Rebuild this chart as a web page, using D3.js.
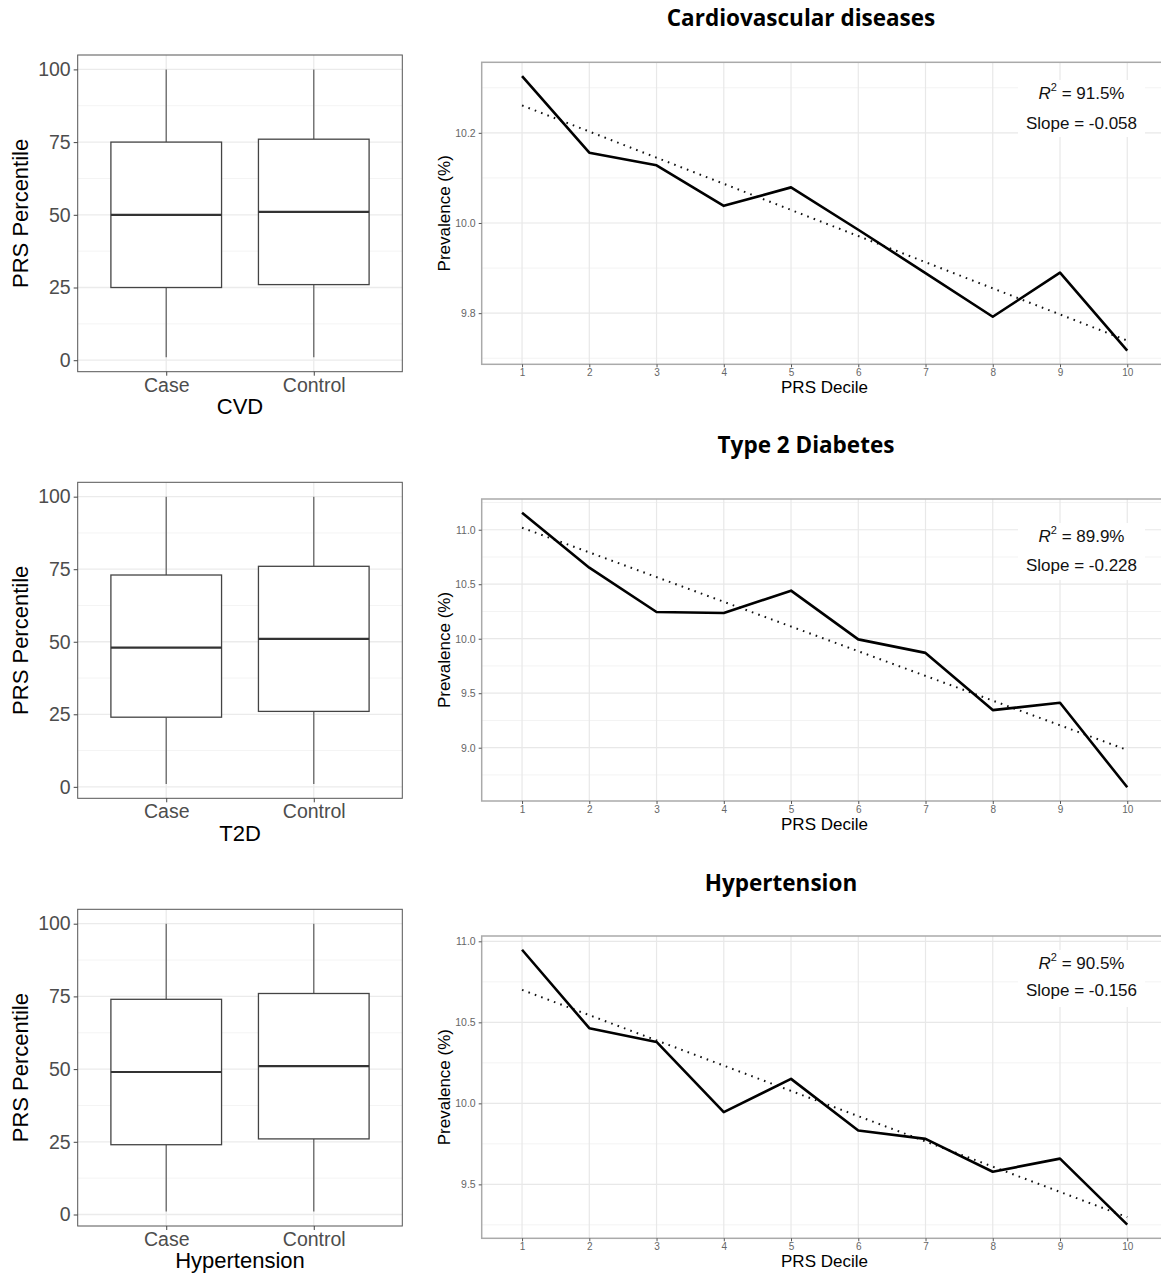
<!DOCTYPE html>
<html><head><meta charset="utf-8">
<script src="https://cdn.jsdelivr.net/npm/d3@7/dist/d3.min.js"></script>
<style>
html,body{margin:0;padding:0;background:#fff;}
svg{display:block;}
</style></head>
<body>
<svg id="chart" width="1161" height="1274"></svg>
<script>
// ---------- data ----------
const diseases = ["CVD", "T2D", "Hypertension"];
const titles = ["Cardiovascular diseases", "Type 2 Diabetes", "Hypertension"];
const groups = ["Case", "Control"];
// box stats: [min, q1, median, q3, max] per group (Case, Control)
const cvdBox = [[1, 25, 50, 75, 100], [1, 26, 51, 76, 100]];
const t2dBox = [[1, 24, 48, 73, 100], [1, 26, 51, 76, 100]];
const htnBox = [[1, 24, 49, 74, 100], [1, 26, 51, 76, 100]];
const boxTicks = [0, 25, 50, 75, 100];

const deciles = [1, 2, 3, 4, 5, 6, 7, 8, 9, 10];
const cvdPrev = [10.326, 10.156, 10.128, 10.038, 10.079, 9.985, 9.889, 9.792, 9.890, 9.717];
const t2dPrev = [11.156, 10.652, 10.245, 10.236, 10.441, 9.994, 9.870, 9.345, 9.412, 8.637];
const htnPrev = [10.948, 10.464, 10.379, 9.946, 10.151, 9.832, 9.781, 9.578, 9.659, 9.252];
const cvdTicks = [9.8, 10.0, 10.2];
const t2dTicks = [9.0, 9.5, 10.0, 10.5, 11.0];
const htnTicks = [9.5, 10.0, 10.5, 11.0];
const r2Labels = ["91.5%", "89.9%", "90.5%"];
const slopeLabels = ["-0.058", "-0.228", "-0.156"];

// ---------- layout ----------
const svg = d3.select("#chart");
const boxData = [cvdBox, t2dBox, htnBox];
const prevData = [cvdPrev, t2dPrev, htnPrev];
const prevTicks = [cvdTicks, t2dTicks, htnTicks];

const boxRows = [{top: 55, bottom: 371.7}, {top: 482.3, bottom: 798.3}, {top: 909.3, bottom: 1226}];
const lineRows = [{top: 62.3, bottom: 364.3}, {top: 499, bottom: 801}, {top: 936, bottom: 1238.3}];
const titleY = [20, 447, 885];
const titleX = [801, 806, 781];
const annY = [[95, 125], [538, 566.7], [965, 991.7]];

const SANS = "'Liberation Sans', Arial, sans-serif";

function boxPanel(i) {
  const r = boxRows[i];
  const L = 77.7, R = 402.3;
  const g = svg.append("g");
  const xp = d3.scalePoint().domain(groups).range([L, R]).padding(0.6);
  const bw = xp.step() * 0.75;
  const y = d3.scaleLinear().domain([1 - 4.95, 100 + 4.95]).range([r.bottom, r.top]);

  const minor = [12.5, 37.5, 62.5, 87.5];
  g.selectAll(".mn").data(minor).join("line")
    .attr("x1", L).attr("x2", R).attr("y1", d => y(d)).attr("y2", d => y(d))
    .attr("stroke", "#f4f4f4").attr("stroke-width", 1);
  g.selectAll(".mj").data(boxTicks).join("line")
    .attr("x1", L).attr("x2", R).attr("y1", d => y(d)).attr("y2", d => y(d))
    .attr("stroke", "#ebebeb").attr("stroke-width", 1.3);
  g.selectAll(".vx").data(groups).join("line")
    .attr("x1", d => xp(d)).attr("x2", d => xp(d)).attr("y1", r.top).attr("y2", r.bottom)
    .attr("stroke", "#ebebeb").attr("stroke-width", 1.3);

  const stats = boxData[i];
  groups.forEach((gname, k) => {
    const s = stats[k];
    const cx = xp(gname);
    g.append("line").attr("x1", cx).attr("x2", cx).attr("y1", y(s[3])).attr("y2", y(s[4]))
      .attr("stroke", "#666").attr("stroke-width", 1.3);
    g.append("line").attr("x1", cx).attr("x2", cx).attr("y1", y(s[1])).attr("y2", y(s[0]))
      .attr("stroke", "#666").attr("stroke-width", 1.3);
    g.append("rect").attr("x", cx - bw / 2).attr("width", bw)
      .attr("y", y(s[3])).attr("height", y(s[1]) - y(s[3]))
      .attr("fill", "#fff").attr("stroke", "#444").attr("stroke-width", 1.3);
    g.append("line").attr("x1", cx - bw / 2).attr("x2", cx + bw / 2).attr("y1", y(s[2])).attr("y2", y(s[2]))
      .attr("stroke", "#333").attr("stroke-width", 2.2);
  });

  g.append("rect").attr("x", L).attr("y", r.top).attr("width", R - L).attr("height", r.bottom - r.top)
    .attr("fill", "none").attr("stroke", "#555").attr("stroke-width", 1);

  const ya = g.append("g").attr("transform", `translate(${L},0)`)
    .call(d3.axisLeft(y).tickValues(boxTicks).tickSize(4).tickPadding(3));
  ya.select(".domain").remove();
  ya.selectAll("line").attr("stroke", "#444");
  ya.selectAll("text").attr("font-family", SANS).attr("font-size", 19.5).attr("fill", "#4d4d4d");

  const xa = g.append("g").attr("transform", `translate(0,${r.bottom})`)
    .call(d3.axisBottom(xp).tickSize(4).tickPadding(2));
  xa.select(".domain").remove();
  xa.selectAll("line").attr("stroke", "#444");
  xa.selectAll("text").attr("font-family", SANS).attr("font-size", 19.5).attr("fill", "#4d4d4d");

  g.append("text").attr("x", (L + R) / 2).attr("y", r.bottom + 36.5)
    .attr("text-anchor", "middle").attr("dominant-baseline", "middle")
    .attr("font-family", SANS).attr("font-size", 22).attr("fill", "#000").text(diseases[i]);
  g.append("text").attr("transform", `translate(22.5,${(r.top + r.bottom) / 2}) rotate(-90)`)
    .attr("text-anchor", "middle").attr("dominant-baseline", "middle")
    .attr("font-family", SANS).attr("font-size", 22).attr("fill", "#000").text("PRS Percentile");
}

function linePanel(i) {
  const r = lineRows[i];
  const L = 481.7, R = 1167.6;
  const g = svg.append("g");
  const vals = prevData[i];
  const ext = d3.extent(vals);
  const pad = (ext[1] - ext[0]) * 0.05;
  const x = d3.scaleLinear().domain([0.4, 10.6]).range([L, R]);
  const y = d3.scaleLinear().domain([ext[0] - pad, ext[1] + pad]).range([r.bottom, r.top]);
  const ticks = prevTicks[i];
  const step = ticks[1] - ticks[0];
  const minor = [];
  for (let t = ticks[0] - step / 2; t <= ext[1] + pad; t += step) {
    if (t >= ext[0] - pad) minor.push(+t.toFixed(4));
  }

  g.selectAll(".mn").data(minor).join("line")
    .attr("x1", L).attr("x2", R).attr("y1", d => y(d)).attr("y2", d => y(d))
    .attr("stroke", "#f3f3f3").attr("stroke-width", 1);
  g.selectAll(".mj").data(ticks).join("line")
    .attr("x1", L).attr("x2", R).attr("y1", d => y(d)).attr("y2", d => y(d))
    .attr("stroke", "#e8e8e8").attr("stroke-width", 1.2);
  g.selectAll(".vx").data(deciles).join("line")
    .attr("x1", d => x(d)).attr("x2", d => x(d)).attr("y1", r.top).attr("y2", r.bottom)
    .attr("stroke", "#e8e8e8").attr("stroke-width", 1.2);

  g.append("rect").attr("x", 1018).attr("y", annY[i][0] - 15).attr("width", 127).attr("height", 57)
    .attr("fill", "#fff");

  // regression (least squares from data)
  const mx = d3.mean(deciles), my = d3.mean(vals);
  let sxy = 0, sxx = 0;
  deciles.forEach((d, k) => { sxy += (d - mx) * (vals[k] - my); sxx += (d - mx) * (d - mx); });
  const b = sxy / sxx, a = my - b * mx;
  const fit = [1, 10].map(d => [d, a + b * d]);
  g.append("path").datum(fit)
    .attr("d", d3.line().x(d => x(d[0])).y(d => y(d[1])))
    .attr("fill", "none").attr("stroke", "#111").attr("stroke-width", 2)
    .attr("stroke-dasharray", "1.6,5.2");

  g.append("path").datum(deciles.map((d, k) => [d, vals[k]]))
    .attr("d", d3.line().x(d => x(d[0])).y(d => y(d[1])))
    .attr("fill", "none").attr("stroke", "#000").attr("stroke-width", 2.6)
    .attr("stroke-linejoin", "round");

  g.append("rect").attr("x", L).attr("y", r.top).attr("width", R - L).attr("height", r.bottom - r.top)
    .attr("fill", "none").attr("stroke", "#aaa").attr("stroke-width", 1.5);

  const ya = g.append("g").attr("transform", `translate(${L},0)`)
    .call(d3.axisLeft(y).tickValues(ticks).tickFormat(d3.format(".1f")).tickSize(3).tickPadding(3));
  ya.select(".domain").remove();
  ya.selectAll("line").attr("stroke", "#555");
  ya.selectAll("text").attr("font-family", SANS).attr("font-size", 10.5).attr("fill", "#666");

  const xa = g.append("g").attr("transform", `translate(0,${r.bottom})`)
    .call(d3.axisBottom(x).tickValues(deciles).tickFormat(d3.format("d")).tickSize(3).tickPadding(2));
  xa.select(".domain").remove();
  xa.selectAll("line").attr("stroke", "#555");
  xa.selectAll("text").attr("font-family", SANS).attr("font-size", 10).attr("fill", "#666");

  g.append("text").attr("x", 824.5).attr("y", r.bottom + 24.5)
    .attr("text-anchor", "middle").attr("dominant-baseline", "middle")
    .attr("font-family", SANS).attr("font-size", 17).attr("fill", "#000").text("PRS Decile");
  g.append("text").attr("transform", `translate(446,${(r.top + r.bottom) / 2}) rotate(-90)`)
    .attr("text-anchor", "middle").attr("dominant-baseline", "middle")
    .attr("font-family", SANS).attr("font-size", 17).attr("fill", "#000").text("Prevalence (%)");

  const t1 = g.append("text").attr("x", 1081.5).attr("y", annY[i][0])
    .attr("text-anchor", "middle").attr("dominant-baseline", "middle")
    .attr("font-family", SANS).attr("font-size", 17).attr("fill", "#111");
  t1.append("tspan").attr("font-style", "italic").text("R");
  t1.append("tspan").attr("font-size", 11).attr("dy", -7).text("2");
  t1.append("tspan").attr("dy", 7).text(" = " + r2Labels[i]);
  g.append("text").attr("x", 1081.5).attr("y", annY[i][1])
    .attr("text-anchor", "middle").attr("dominant-baseline", "middle")
    .attr("font-family", SANS).attr("font-size", 17).attr("fill", "#111")
    .text("Slope = " + slopeLabels[i]);

  svg.append("text").attr("x", titleX[i]).attr("y", titleY[i])
    .attr("text-anchor", "middle").attr("dominant-baseline", "middle")
    .attr("font-family", "'Open Sans', Lato, sans-serif").attr("font-weight", 700)
    .attr("font-size", 22.5).attr("fill", "#000").text(titles[i]);
}

for (let i = 0; i < 3; i++) { boxPanel(i); linePanel(i); }
</script>
</body></html>
